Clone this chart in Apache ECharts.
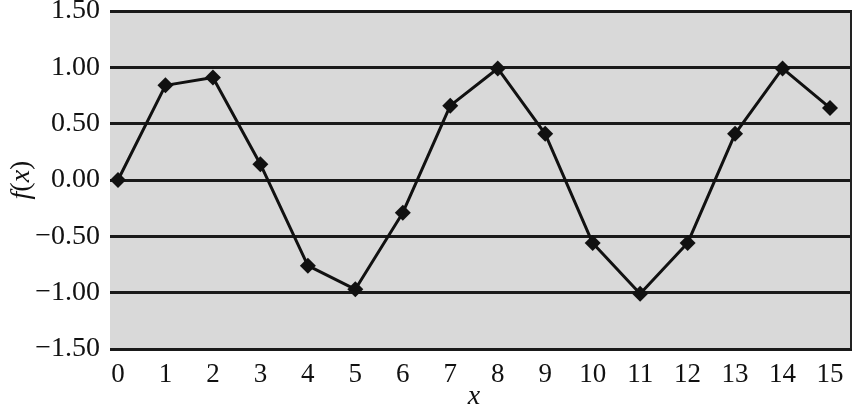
<!DOCTYPE html>
<html><head><meta charset="utf-8">
<script src="https://cdn.jsdelivr.net/npm/echarts@6/dist/echarts.min.js"></script>
<style>html,body{margin:0;padding:0;background:#fff}#c{width:858px;height:408px}</style>
</head><body><div id="c"></div>
<script>
const xValues = [0,1,2,3,4,5,6,7,8,9,10,11,12,13,14,15];
const fValues = [0.00,0.84,0.91,0.14,-0.76,-0.97,-0.29,0.66,0.99,0.41,-0.56,-1.01,-0.56,0.41,0.99,0.64];
const yTicks = [-1.5,-1.0,-0.5,0,0.5,1.0,1.5];
const xTitle = 'x';

const font = 'Liberation Serif';
const chart = echarts.init(document.getElementById('c'));
chart.setOption({
  animation: false,
  backgroundColor: '#fff',
  grid: [
    {left: 110, top: 11, width: 742, height: 338, show: true, backgroundColor: '#d9d9d9', borderWidth: 0, borderColor: 'transparent', outerBoundsMode: 'none', containLabel: false},
    {left: 118, top: 11, width: 712, height: 338, outerBoundsMode: 'none', containLabel: false}
  ],
  graphic: [
    {type: 'line', shape: {x1: 851, y1: 11, x2: 851, y2: 349}, style: {stroke: '#222', lineWidth: 2}, z: 5}
  ],
  xAxis: [
    {gridIndex: 0, type: 'value', min: 0, max: 1, show: false},
    {gridIndex: 1, type: 'value', min: 0, max: 15, interval: 1,
     axisLine: {show: false}, axisTick: {show: false}, splitLine: {show: false},
     axisLabel: {color: '#111', fontFamily: font, fontSize: 27, margin: 12,
       formatter: v => xValues.includes(v) ? String(v) : ''},
     name: xTitle, nameLocation: 'middle', nameGap: 34, nameMoveOverlap: false,
     nameTextStyle: {color: '#111', fontFamily: font, fontSize: 28, fontStyle: 'italic'}}
  ],
  yAxis: [
    {gridIndex: 0, type: 'value', min: -1.5, max: 1.5, interval: 0.5,
     axisLine: {show: false}, axisTick: {show: false},
     splitLine: {show: true, lineStyle: {color: '#1a1a1a', width: 3}},
     axisLabel: {color: '#111', fontFamily: font, fontSize: 28, margin: 10,
       formatter: v => (v < 0 ? '\u2212' : '') + Math.abs(v).toFixed(2)},
     name: '{i|f}{n|(}{i|x}{n|)}', nameLocation: 'middle', nameGap: 74, nameRotate: 90, nameMoveOverlap: false,
     nameTextStyle: {color: '#111', fontFamily: font, fontSize: 28,
       rich: {i: {fontFamily: font, fontSize: 28, fontStyle: 'italic', color: '#111'},
              n: {fontFamily: font, fontSize: 28, color: '#111'}}}},
    {gridIndex: 1, type: 'value', min: -1.5, max: 1.5, show: false}
  ],
  series: [{
    type: 'line', xAxisIndex: 1, yAxisIndex: 1,
    data: xValues.map((x, i) => [x, fValues[i]]),
    symbol: 'diamond', symbolSize: 16, showAllSymbol: true,
    lineStyle: {color: '#111', width: 3},
    itemStyle: {color: '#111'},
    z: 10
  }]
});
</script></body></html>
